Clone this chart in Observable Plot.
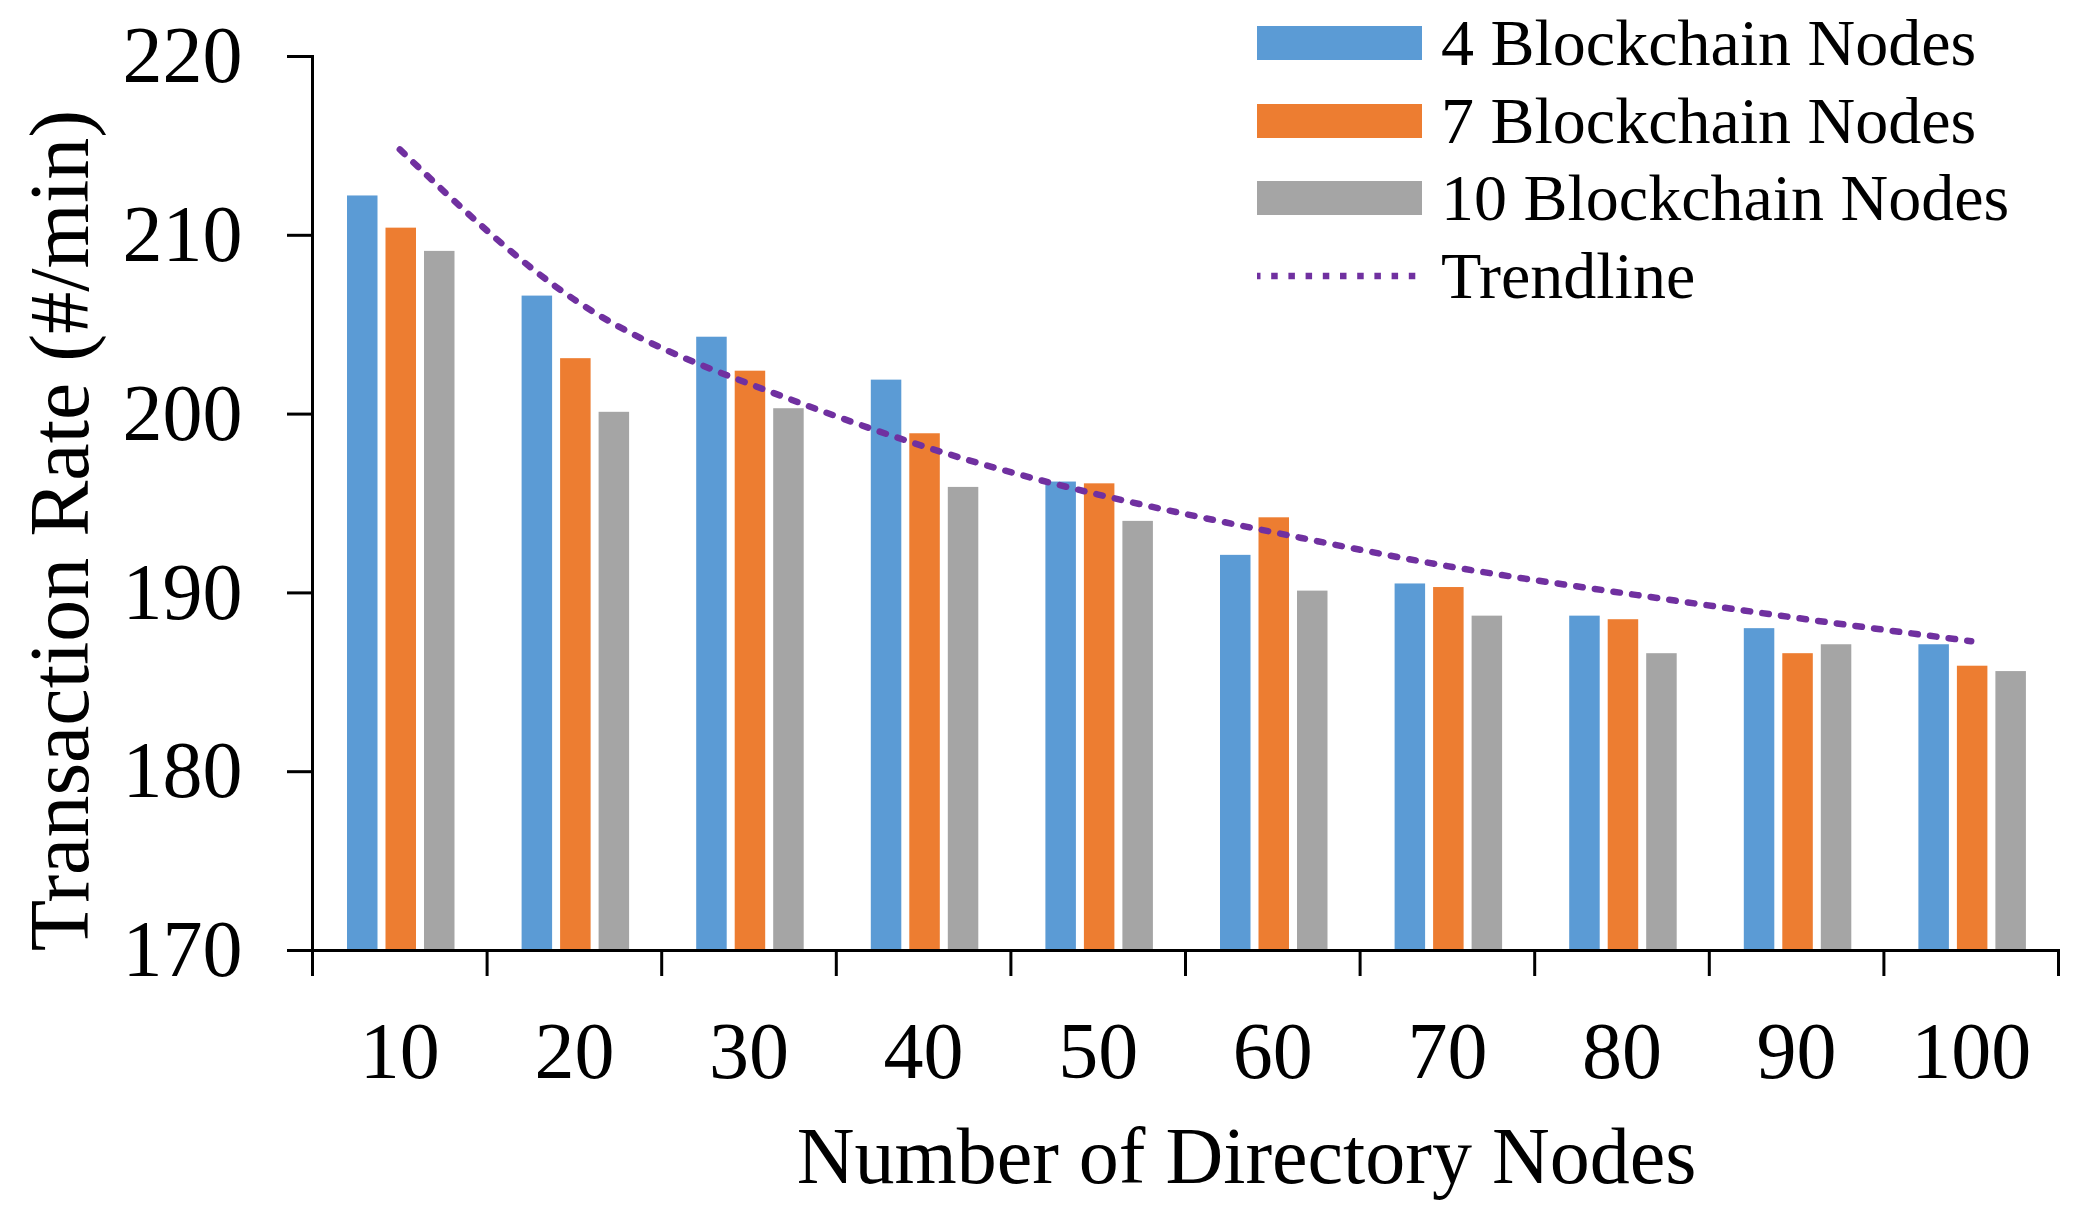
<!DOCTYPE html>
<html><head><meta charset="utf-8">
<script src="https://cdn.jsdelivr.net/npm/d3@7"></script>
<script src="https://cdn.jsdelivr.net/npm/@observablehq/plot@0.6"></script>
<style>
html,body{margin:0;padding:0;background:#fff;}
#wrap{position:relative;width:2080px;height:1219px;}
#legend{position:absolute;left:1257px;top:4.6px;font-family:"Liberation Serif",serif;font-size:66px;color:#000;}
.row{display:flex;align-items:center;height:77.5px;white-space:nowrap;}
.sw{width:165px;height:34px;margin-right:19px;flex:none;}
</style></head><body><div id="wrap"></div>
<script>
// ---- data ----
const categories = [10, 20, 30, 40, 50, 60, 70, 80, 90, 100];
const seriesNames = ["4 Blockchain Nodes", "7 Blockchain Nodes", "10 Blockchain Nodes", "Trendline"];
const nodes4  = [212.2, 206.6, 204.3, 201.9, 196.2, 192.1, 190.5, 188.7, 188.0, 187.1];
const nodes7  = [210.4, 203.1, 202.4, 198.9, 196.1, 194.2, 190.3, 188.5, 186.6, 185.9];
const nodes10 = [209.1, 200.1, 200.3, 195.9, 194.0, 190.1, 188.7, 186.6, 187.1, 185.6];
const trendline = [214.8, 206.4, 201.7, 198.2, 195.5, 193.4, 191.5, 190.0, 188.6, 187.3];
const yTicks = [170, 180, 190, 200, 210, 220];
const xTitle = "Number of Directory Nodes";
const yTitle = "Transaction Rate (#/min)";
const colors = ["#5B9BD5", "#ED7D31", "#A5A5A5", "#7030A0"];

// ---- layout ----
const W = 2080, H = 1219, mL = 312, mR = 22, mT = 56, mB = 269;
const step = (W - mL - mR) / categories.length;
const half = (categories[1] - categories[0]) / 2;
const rows = vals => categories.map((c, i) => ({cat: c, value: vals[i]}));
const boundaries = categories.map(c => c - half).concat([categories[categories.length - 1] + half]);

// bar slots inside each category slot (pixels from slot's left edge)
const slots = [[35, 65.5], [73.5, 104], [112, 142.5]];
const bar = (vals, k) => Plot.rectY(rows(vals), {
  x1: d => d.cat - half, x2: d => d.cat + half, y: "value",
  fill: colors[k], insetLeft: slots[k][0], insetRight: step - slots[k][1], clip: true
});

const chart = Plot.plot({
  width: W, height: H,
  marginLeft: mL, marginRight: mR, marginTop: mT, marginBottom: mB,
  style: {fontFamily: "Liberation Serif, serif", fontSize: "80px", color: "#000", background: "#fff"},
  x: {type: "linear", domain: [boundaries[0], boundaries[boundaries.length - 1]]},
  y: {domain: [yTicks[0], yTicks[yTicks.length - 1]]},
  marks: [
    bar(nodes4, 0),
    bar(nodes7, 1),
    bar(nodes10, 2),
    Plot.line(rows(trendline), {x: "cat", y: "value", curve: "natural",
      stroke: colors[3], strokeWidth: 6.5, strokeDasharray: "6.5 12.3"}),
    Plot.frame({anchor: "bottom", stroke: "#000", strokeWidth: 3}),
    Plot.frame({anchor: "left", stroke: "#000", strokeWidth: 3}),
    Plot.axisY({ticks: yTicks, tickSize: 25, tickPadding: 45, strokeWidth: 3, tickFormat: d => String(d), label: null}),
    Plot.axisX({ticks: boundaries, tickSize: 26, strokeWidth: 3, tickFormat: () => "", label: null}),
    Plot.axisX({ticks: categories, tickSize: 0, tickPadding: 71, tickFormat: d => String(d), label: null}),
    Plot.text([yTitle], {frameAnchor: "left", rotate: -90, dx: -251, dy: 27, fontSize: 84, textAnchor: "middle"}),
    Plot.text([xTitle], {frameAnchor: "bottom", dx: 61, dy: 232, fontSize: 80, textAnchor: "middle", lineAnchor: "bottom"})
  ]
});

const wrap = document.getElementById("wrap");
wrap.appendChild(chart);

// ---- legend ----
const legend = document.createElement("div");
legend.id = "legend";
seriesNames.forEach((name, k) => {
  const row = document.createElement("div");
  row.className = "row";
  let sw;
  if (k < 3) {
    sw = document.createElement("div");
    sw.className = "sw";
    sw.style.background = colors[k];
  } else {
    sw = document.createElementNS("http://www.w3.org/2000/svg", "svg");
    sw.setAttribute("class", "sw");
    sw.setAttribute("width", 165); sw.setAttribute("height", 34);
    const ln = document.createElementNS("http://www.w3.org/2000/svg", "line");
    ln.setAttribute("x1", -3); ln.setAttribute("x2", 160);
    ln.setAttribute("y1", 17); ln.setAttribute("y2", 17);
    ln.setAttribute("stroke", colors[3]); ln.setAttribute("stroke-width", 6.5);
    ln.setAttribute("stroke-dasharray", "6.5 10.7");
    sw.appendChild(ln);
  }
  const label = document.createElement("span");
  label.textContent = name;
  row.appendChild(sw); row.appendChild(label);
  legend.appendChild(row);
});
wrap.appendChild(legend);
</script></body></html>
